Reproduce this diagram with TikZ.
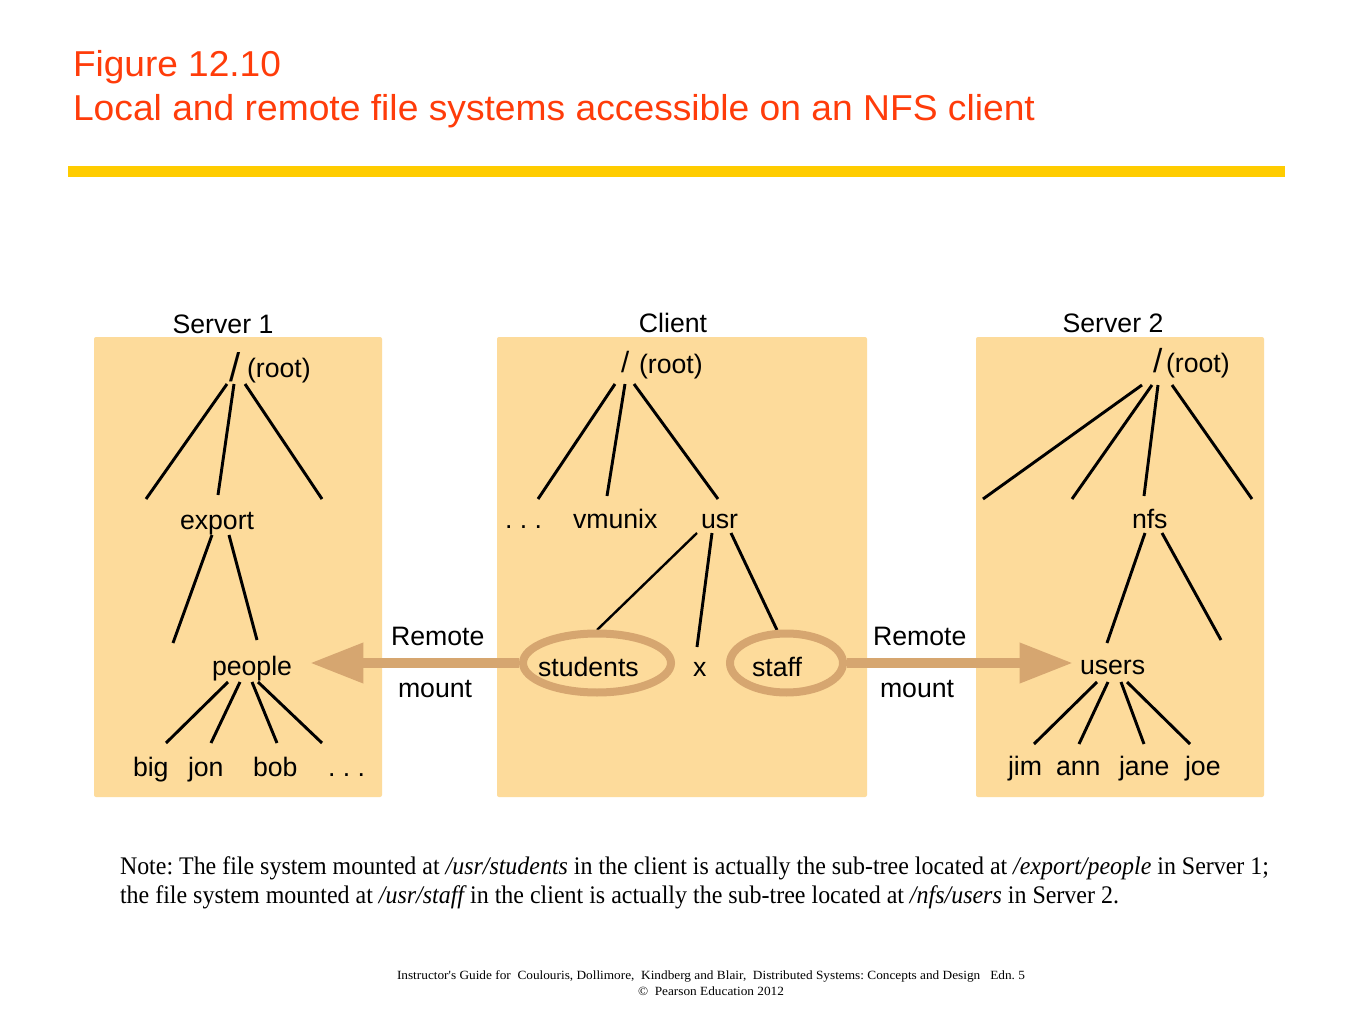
\documentclass[tikz,border=0pt]{standalone}
\usepackage{fontspec}
\setmainfont{Liberation Sans}
\newfontfamily\serifnote{Liberation Serif}
\usetikzlibrary{arrows.meta,shapes.geometric}
\definecolor{titlered}{RGB}{255,60,10}
\definecolor{baryellow}{RGB}{255,204,0}
\definecolor{boxfill}{RGB}{253,219,155}
\definecolor{mounttan}{RGB}{214,166,112}
\frenchspacing
\begin{document}
\begin{tikzpicture}[x=0.75pt,y=-0.75pt,
  txt/.style={inner sep=0pt, outer sep=0pt, anchor=base west, font=\fontsize{20}{24}\selectfont},
  ctxt/.style={txt, anchor=base},
  slashtxt/.style={inner sep=0pt, outer sep=0pt, anchor=base west},
  edge/.style={line width=2.2pt},
  panel/.style={fill=boxfill, rounded corners=1.5pt},
  mountring/.style={ellipse, draw=mounttan, line width=6pt, inner sep=0pt, minimum height=44.25pt},
  mountarrow/.style={draw=mounttan, line width=7.5pt, -{Triangle[length=40pt,width=28.5pt]}},
  titletxt/.style={inner sep=0pt, outer sep=0pt, anchor=base west, text=titlered, font=\fontsize{27}{32}\selectfont},
  notetxt/.style={inner sep=0pt, outer sep=0pt, anchor=base west, font=\serifnote\fontsize{19}{23}\selectfont},
  foottxt/.style={inner sep=0pt, outer sep=0pt, anchor=base west, font=\serifnote\fontsize{9.4}{11}\selectfont}]

\useasboundingbox (0,0) rectangle (1365,1024);
\fill[white] (0,0) rectangle (1365,1024);

% title and bar
\node[titletxt] (title1) at (73,77) {\resizebox{156pt}{\height}{Figure 12.10}};
\node[titletxt] (title2) at (73,121) {\resizebox{721.5pt}{\height}{Local and remote file systems accessible on an NFS client}};
\fill[baryellow] (68,166) rectangle (1285,177);

% panels
\fill[panel] (94,337) rectangle (382,797);
\fill[panel] (497,337) rectangle (867,797);
\fill[panel] (976,337) rectangle (1264,797);

% panel captions
\node[ctxt] (cap1) at (223,333) {Server 1};
\node[ctxt] (cap2) at (673,332) {Client};
\node[ctxt] (cap3) at (1113,332) {Server 2};

% ---------- Server 1 ----------
\node[slashtxt, font=\fontsize{30}{30}\selectfont] (s1slash) at (229,381) {/};
\node[txt] (s1root) at (247,377) {(root)};
\node[txt] (s1export) at (180,529) {export};
\node[txt] (s1people) at (212,675) {people};
\node[txt] (s1big) at (133,776) {big};
\node[txt] (s1jon) at (188,776) {jon};
\node[txt] (s1bob) at (253,776) {bob};
\node[txt] (s1dots) at (328,776) {. . .};

\coordinate (s1rA) at (227,384); \coordinate (s1cA) at (146,499);
\coordinate (s1rB) at (234,384); \coordinate (s1cB) at (218,495);
\coordinate (s1rC) at (245,384); \coordinate (s1cC) at (322,499);
\draw[edge] (s1rA) -- (s1cA);
\draw[edge] (s1rB) -- (s1cB);
\draw[edge] (s1rC) -- (s1cC);

\coordinate (s1eA) at (212,535); \coordinate (s1eA2) at (173,643);
\coordinate (s1eB) at (229,535); \coordinate (s1eB2) at (257,640);
\draw[edge] (s1eA) -- (s1eA2);
\draw[edge] (s1eB) -- (s1eB2);

\coordinate (s1pA) at (228,682); \coordinate (s1pA2) at (166,743);
\coordinate (s1pB) at (240,682); \coordinate (s1pB2) at (211,743);
\coordinate (s1pC) at (252,682); \coordinate (s1pC2) at (277,743);
\coordinate (s1pD) at (258,682); \coordinate (s1pD2) at (322,743);
\draw[edge] (s1pA) -- (s1pA2);
\draw[edge] (s1pB) -- (s1pB2);
\draw[edge] (s1pC) -- (s1pC2);
\draw[edge] (s1pD) -- (s1pD2);

% ---------- Client ----------
\node[slashtxt, font=\fontsize{22}{22}\selectfont] (cslash) at (621,372) {/};
\node[txt] (croot) at (639,373) {(root)};
\node[txt] (cdots) at (505,528) {. . .};
\node[txt] (cvmunix) at (573,528) {vmunix};
\node[txt] (cusr) at (701,528) {usr};
\node[txt] (cstudents) at (538,676) {students};
\node[txt] (cx) at (693,676) {x};
\node[txt] (cstaff) at (752,676) {staff};

\coordinate (crA) at (615,384); \coordinate (ccA) at (538,499);
\coordinate (crB) at (625,384); \coordinate (ccB) at (607,496);
\coordinate (crC) at (634,384); \coordinate (ccC) at (718,499);
\draw[edge] (crA) -- (ccA);
\draw[edge] (crB) -- (ccB);
\draw[edge] (crC) -- (ccC);

\coordinate (cuA) at (697,533); \coordinate (cuA2) at (597,630);
\coordinate (cuB) at (712,533); \coordinate (cuB2) at (697,647);
\coordinate (cuC) at (731,533); \coordinate (cuC2) at (777,630);
\draw[edge, line width=1.8pt] (cuA) -- (cuA2);
\draw[edge] (cuB) -- (cuB2);
\draw[edge] (cuC) -- (cuC2);

\node[mountring, minimum width=111pt] (ringstu) at (597,663) {};
\node[mountring, minimum width=84.75pt] (ringstaff) at (786.5,663) {};

% ---------- Server 2 ----------
\node[slashtxt, font=\fontsize{25}{25}\selectfont] (s2slash) at (1153,372) {/};
\node[txt] (s2root) at (1166,372) {(root)};
\node[txt] (s2nfs) at (1132,528) {nfs};
\node[txt] (s2users) at (1080,674) {users};
\node[txt] (s2jim) at (1008,775) {jim};
\node[txt] (s2ann) at (1056,775) {ann};
\node[txt] (s2jane) at (1119,775) {jane};
\node[txt] (s2joe) at (1185,775) {joe};

\coordinate (s2rA) at (1142,385); \coordinate (s2cA) at (983,499);
\coordinate (s2rB) at (1152,385); \coordinate (s2cB) at (1072,499);
\coordinate (s2rC) at (1158,385); \coordinate (s2cC) at (1144,496);
\coordinate (s2rD) at (1172,385); \coordinate (s2cD) at (1252,499);
\draw[edge] (s2rA) -- (s2cA);
\draw[edge] (s2rB) -- (s2cB);
\draw[edge] (s2rC) -- (s2cC);
\draw[edge] (s2rD) -- (s2cD);

\coordinate (s2nA) at (1145,533); \coordinate (s2nA2) at (1107,643);
\coordinate (s2nB) at (1162,533); \coordinate (s2nB2) at (1221,640);
\draw[edge] (s2nA) -- (s2nA2);
\draw[edge] (s2nB) -- (s2nB2);

\coordinate (s2uA) at (1097,682); \coordinate (s2uA2) at (1034,744);
\coordinate (s2uB) at (1108,682); \coordinate (s2uB2) at (1079,744);
\coordinate (s2uC) at (1121,682); \coordinate (s2uC2) at (1144,744);
\coordinate (s2uD) at (1127,682); \coordinate (s2uD2) at (1190,744);
\draw[edge] (s2uA) -- (s2uA2);
\draw[edge] (s2uB) -- (s2uB2);
\draw[edge] (s2uC) -- (s2uC2);
\draw[edge] (s2uD) -- (s2uD2);

% ---------- remote mounts ----------
\coordinate (tipL) at (310,663);
\coordinate (tipR) at (1073,663);
\draw[mountarrow] (ringstu.west) -- (tipL);
\draw[mountarrow] (ringstaff.east) -- (tipR);
\node[txt] (remL) at (391,645) {Remote};
\node[txt] (mntL) at (398,697) {mount};
\node[txt] (remR) at (873,645) {Remote};
\node[txt] (mntR) at (880,697) {mount};

% ---------- note ----------
\node[notetxt] (note1) at (120,874) {\resizebox{861.75pt}{\height}{Note: The file system mounted at {\itshape /usr/students} in the client is actually the sub-tree located at {\itshape /export/people} in Server 1;}};
\node[notetxt] (note2) at (120,903) {\resizebox{749.25pt}{\height}{the file system mounted at {\itshape /usr/staff} in the client is actually the sub-tree located at {\itshape /nfs/users} in Server 2.}};

% ---------- footer ----------
\node[foottxt] (foot1) at (397,979) {\resizebox{471pt}{\height}{Instructor's Guide for\ \ Coulouris, Dollimore,\ \ Kindberg and Blair,\ \ Distributed Systems: Concepts and Design\ \ \ Edn. 5}};
\node[foottxt] (foot2) at (638,995) {\resizebox{109.5pt}{\height}{\textcopyright\ \ Pearson Education 2012}};
\end{tikzpicture}
\end{document}
